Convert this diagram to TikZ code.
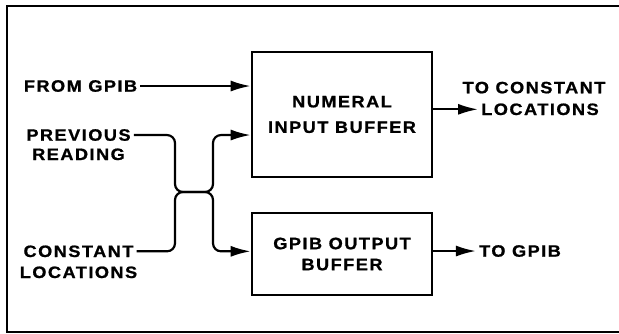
\documentclass[tikz,border=0pt]{standalone}
\usepackage{fontspec}
\usepackage{tikz}
\usetikzlibrary{arrows.meta}
\newfontfamily\lblfam{Liberation Sans}[FakeStretch=1.1,LetterSpace=9,FakeBold=1]
\newcommand\lblfont{\lblfam\bfseries\fontsize{16.5}{21}\selectfont}
\newcommand\nibfont{\lblfam\bfseries\fontsize{16.5}{25.5}\selectfont}
\tikzset{
  lbl/.style={font=\lblfont,inner xsep=3pt,inner ysep=0pt,anchor=base},
  buffer/.style={draw,line width=2.6pt,minimum width=180pt,align=center,inner sep=0pt},
  wire/.style={line width=2.2pt,rounded corners=8pt}
}
\begin{document}
\begin{tikzpicture}[x=1pt,y=-1pt,>={Latex[length=20pt,width=11pt]}]
  \useasboundingbox (0,0) rectangle (619,333);
  \draw[line width=2.8pt] (619,6) -- (7,6) -- (7,332) -- (619,332);
  % inputs
  \node[lbl] (fromG) at (80.5,91.7) {FROM GPIB};
  \node[lbl] (prevA) at (78.5,140.7) {PREVIOUS};
  \node[lbl] (prevB) at (78.5,160) {READING};
  \node[lbl] (constA) at (78.5,257) {CONSTANT};
  \node[lbl] (constB) at (78.5,278) {LOCATIONS};
  % buffers
  \node[buffer,minimum height=125pt,font=\nibfont] (nib) at (342,114.5) {NUMERAL\\INPUT BUFFER};
  \node[buffer,minimum height=82pt,font=\lblfont] (gob) at (342,254) {GPIB OUTPUT\\BUFFER};
  % outputs
  \node[lbl] (toconA) at (534,93.3) {TO CONSTANT};
  \node[lbl] (toconB) at (540,115) {LOCATIONS};
  \node[lbl] (toG) at (520,256.7) {TO GPIB};
  \coordinate (jL) at (175,192);
  \coordinate (jR) at (213,192);
  \draw[wire,->] (fromG.east) -- (nib.west |- fromG.east);
  \draw[wire,->] (prevA.east) -| (jL) -- (jR) |- (nib.west |- prevA.east);
  \draw[wire,->] (constA.east) -| (jL) -- (jR) |- (gob.west |- constA.east);
  \draw[wire,->] (nib.east |- toconB.west) -- (toconB.west);
  \draw[wire,->] (gob.east |- toG.west) -- (toG.west);
\end{tikzpicture}
\end{document}
